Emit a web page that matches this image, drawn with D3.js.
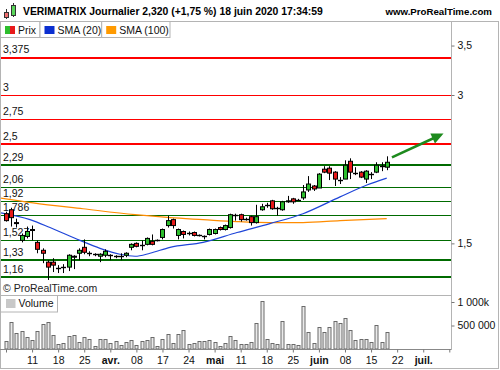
<!DOCTYPE html>
<html>
<head>
<meta charset="utf-8">
<script src="https://cdn.jsdelivr.net/npm/d3@7"></script>
<style>
  body { margin: 0; background: #fff; }
  svg { display: block; font-family: "Liberation Sans", Arial, sans-serif; }
</style>
</head>
<body>
<div id="chart"></div>
<script>
// daily candles, 4 March -> 18 June 2020 (trading-day index 0..73)
const open  = [1.80,1.84,1.71,1.53,1.57,1.63,1.51,1.43,1.31,1.31,1.25,1.26,1.26,1.36,1.40,1.46,1.40,1.39,1.37,1.38,
               1.38,1.37,1.37,1.38,1.46,1.50,1.48,1.49,1.52,1.53,1.56,1.68,1.74,1.58,1.62,1.60,1.61,1.58,1.57,1.59,
               1.60,1.66,1.64,1.66,1.79,1.79,1.75,1.77,1.71,1.84,1.89,1.93,1.86,1.84,1.92,1.95,1.94,1.96,2.04,2.08,
               2.06,2.25,2.26,2.22,2.14,2.15,2.33,2.21,2.22,2.15,2.20,2.22,2.28,2.27];
const high  = [1.82,1.86,1.75,1.60,1.67,1.68,1.53,1.45,1.33,1.35,1.28,1.29,1.39,1.38,1.45,1.54,1.42,1.40,1.40,1.44,
               1.39,1.38,1.40,1.41,1.50,1.51,1.53,1.56,1.59,1.54,1.65,1.78,1.75,1.65,1.63,1.62,1.62,1.59,1.58,1.65,
               1.65,1.67,1.69,1.80,1.80,1.80,1.76,1.78,1.89,1.90,1.91,1.94,1.87,1.93,1.98,1.96,1.95,2.09,2.18,2.09,
               2.21,2.28,2.28,2.23,2.17,2.34,2.36,2.27,2.23,2.24,2.22,2.32,2.32,2.38];
const low   = [1.72,1.67,1.66,1.51,1.55,1.53,1.40,1.30,1.13,1.21,1.20,1.20,1.22,1.24,1.33,1.39,1.37,1.37,1.31,1.36,
               1.33,1.35,1.33,1.36,1.43,1.46,1.43,1.48,1.48,1.52,1.54,1.66,1.65,1.54,1.55,1.58,1.57,1.57,1.54,1.58,
               1.59,1.63,1.63,1.65,1.73,1.72,1.73,1.68,1.70,1.83,1.86,1.84,1.78,1.83,1.91,1.90,1.93,1.94,2.02,2.03,
               2.06,2.21,2.14,2.08,2.10,2.15,2.15,2.19,2.16,2.11,2.15,2.21,2.23,2.24];
const close = [1.73,1.76,1.70,1.58,1.62,1.64,1.44,1.40,1.26,1.28,1.25,1.26,1.38,1.37,1.43,1.41,1.40,1.39,1.39,1.42,
               1.38,1.37,1.37,1.40,1.49,1.47,1.48,1.55,1.49,1.53,1.64,1.73,1.68,1.64,1.59,1.60,1.58,1.58,1.57,1.64,
               1.64,1.64,1.68,1.79,1.79,1.74,1.75,1.71,1.77,1.87,1.89,1.85,1.86,1.92,1.93,1.92,1.94,2.02,2.10,2.05,
               2.20,2.22,2.21,2.15,2.14,2.29,2.22,2.21,2.17,2.23,2.20,2.29,2.28,2.32];
const volume = [170,570,350,380,250,190,380,530,570,300,105,135,275,300,140,250,205,65,205,205,
                120,170,85,150,190,85,170,190,250,65,205,310,120,310,405,105,135,170,170,190,
                155,65,120,275,190,105,105,155,545,1020,205,120,110,595,110,110,90,915,355,120,
                460,355,460,600,545,650,405,190,210,210,150,510,150,355].map(v => v * 1000);

// moving averages (trading-day index, price)
const sma20Idx  = [-1.15, 4.6, 8.44, 14.19, 18.02, 21.86, 24.74, 27.61, 31.45, 37.78, 44.3, 50.6, 56.95, 64.05, 69.2, 73];
const sma20Val  = [1.81, 1.74, 1.66, 1.53, 1.45, 1.39, 1.37, 1.40, 1.46, 1.51, 1.61, 1.70, 1.80, 1.97, 2.09, 2.16];
const sma100Idx = [-1.15, 5.18, 14.77, 24.74, 31.45, 37.78, 44.3, 50.6, 56.95, 64.05, 73];
const sma100Val = [1.96, 1.91, 1.85, 1.79, 1.76, 1.74, 1.72, 1.71, 1.71, 1.73, 1.75];

// support / resistance levels
const levelVals = [3.375, 3, 2.75, 2.5, 2.29, 2.06, 1.92, 1.786, 1.527, 1.33, 1.16];
const levelText = ['3,375', '3', '2,75', '2,5', '2,29', '2,06', '1,92', '1,786', '1,527', '1,33', '1,16'];
const thickLevels = new Set([3.375, 2.5, 2.29, 1.33, 1.16]);

// trend arrow (index, price)
const arrowIdx = [74, 83.9];
const arrowPrice = [2.37, 2.61];

// axes
const priceTicks = [3.5, 3, 1.5];
const priceTickText = ['3,5', '3', '1,5'];
const volTicks = [1000000, 500000];
const volTickText = ['1 000k', '500 000'];
const dateTicks = [0, 5, 10, 15, 20, 25, 30, 35, 40, 45, 50, 55, 60, 65, 70, 75, 80, 85];
const dateText = ['', '11', '18', '25', 'avr.', '08', '17', '24', 'mai', '11', '18', '25', 'juin', '08', '15', '22', 'juil.', ''];
const monthText = new Set(['avr.', 'mai', 'juin', 'juil.']);

const GREEN = '#2dbe2d', RED = '#e8191a', BORDER = '#b4b4b4';
const crisp = (v, w) => (w % 2 ? Math.round(v - 0.5) + 0.5 : Math.round(v));

const svg = d3.select('#chart').append('svg').attr('width', 500).attr('height', 370);

const x = d3.scaleLinear().domain([0, 85]).range([6, 449.3]);
const y = d3.scaleLinear().domain([1.16, 3]).range([277, 95]);
const yv = d3.scaleLinear().domain([0, 1000000]).range([349, 302]);

svg.append('defs').append('clipPath').attr('id', 'main')
  .append('rect').attr('x', 1).attr('y', 38).attr('width', 450).attr('height', 257);

// header
const icon = svg.append('g');
icon.append('line').attr('x1', 6.5).attr('x2', 6.5).attr('y1', 9).attr('y2', 19).attr('stroke', '#333');
icon.append('rect').attr('x', 4.5).attr('y', 12.5).attr('width', 4).attr('height', 5).attr('fill', '#f07070').attr('stroke', '#333');
icon.append('line').attr('x1', 13.5).attr('x2', 13.5).attr('y1', 3).attr('y2', 17).attr('stroke', '#333');
icon.append('rect').attr('x', 11.5).attr('y', 5.5).attr('width', 4).attr('height', 10).attr('fill', '#5ad65a').attr('stroke', '#333');

svg.append('text').attr('x', 23).attr('y', 15).style('font-size', '10.4px').style('font-weight', 'bold')
  .text('VERIMATRIX Journalier 2,320 (+1,75 %) 18 juin 2020 17:34:59');
svg.append('text').attr('x', 492).attr('y', 15).attr('text-anchor', 'end')
  .style('font-size', '9.7px').style('font-weight', 'bold').text('www.ProRealTime.com');

// frames
svg.append('rect').attr('x', 0.5).attr('y', 21.5).attr('width', 498).attr('height', 347)
  .attr('fill', 'none').attr('stroke', BORDER);
svg.append('line').attr('x1', 0).attr('x2', 451).attr('y1', 295.5).attr('y2', 295.5).attr('stroke', BORDER);
svg.append('line').attr('x1', 451.5).attr('x2', 451.5).attr('y1', 22).attr('y2', 350).attr('stroke', BORDER);

// legend row
const legend = [
  { name: 'Prix', w: 39.5, colors: [GREEN, RED] },
  { name: 'SMA (20)', w: 61.7, colors: ['#0b2fd0'] },
  { name: 'SMA (100)', w: 68.3, colors: ['#ff9a00'] }
];
let lx = 0.5;
legend.forEach(d => {
  const g = svg.append('g').attr('transform', `translate(${lx},21.5)`);
  g.append('rect').attr('width', d.w).attr('height', 16).attr('fill', '#fff').attr('stroke', BORDER);
  const sw = 10 / d.colors.length;
  d.colors.forEach((c, i) => g.append('rect').attr('x', 4.5 + i * sw).attr('y', 4.5)
    .attr('width', sw).attr('height', 8).attr('fill', c));
  g.append('text').attr('x', 17.5).attr('y', 12).style('font-size', '10.5px').attr('fill', '#111').text(d.name);
  lx += d.w;
});

// levels
const main = svg.append('g').attr('clip-path', 'url(#main)');
const lastClose = close[close.length - 1];
main.selectAll('.level').data(levelVals).join('line')
  .attr('x1', 1).attr('x2', 451)
  .attr('y1', d => crisp(y(d), thickLevels.has(d) ? 2 : 1))
  .attr('y2', d => crisp(y(d), thickLevels.has(d) ? 2 : 1))
  .attr('stroke', d => d > lastClose ? '#ff0000' : '#006b00')
  .attr('stroke-width', d => thickLevels.has(d) ? 2.2 : 1.1);
main.selectAll('.level-label').data(levelVals).join('text')
  .attr('x', 3).attr('y', d => y(d) - 4.5)
  .style('font-size', '10.5px').attr('fill', '#111')
  .text((d, i) => levelText[i]);

// moving averages
const smaLine = d3.line().x(d => x(d[0])).y(d => y(d[1])).curve(d3.curveMonotoneX);
main.append('path').datum(d3.zip(sma100Idx, sma100Val)).attr('d', smaLine)
  .attr('fill', 'none').attr('stroke', '#ff8c00').attr('stroke-width', 1.2);
main.append('path').datum(d3.zip(sma20Idx, sma20Val)).attr('d', smaLine)
  .attr('fill', 'none').attr('stroke', '#1f45d8').attr('stroke-width', 1.2);

// candles
const idx = d3.range(close.length);
const cx = i => Math.round(x(i)) + 0.5;
main.selectAll('.wick').data(idx).join('line')
  .attr('x1', cx).attr('x2', cx)
  .attr('y1', i => y(high[i])).attr('y2', i => y(low[i]))
  .attr('stroke', '#000').attr('stroke-width', 1);
main.selectAll('.body').data(idx.filter(i => open[i] !== close[i])).join('rect')
  .attr('x', i => cx(i) - 2).attr('width', 4)
  .attr('y', i => y(Math.max(open[i], close[i])))
  .attr('height', i => Math.max(1, Math.abs(y(open[i]) - y(close[i]))))
  .attr('fill', i => close[i] > open[i] ? GREEN : RED)
  .attr('stroke', '#000').attr('stroke-width', 1);
main.selectAll('.doji').data(idx.filter(i => open[i] === close[i])).join('line')
  .attr('x1', i => cx(i) - 2.5).attr('x2', i => cx(i) + 2.5)
  .attr('y1', i => Math.round(y(close[i])) + 0.5).attr('y2', i => Math.round(y(close[i])) + 0.5)
  .attr('stroke', '#000').attr('stroke-width', 1.4);

// trend arrow
const a0 = [x(arrowIdx[0]), y(arrowPrice[0])], a1 = [x(arrowIdx[1]), y(arrowPrice[1])];
const len = Math.hypot(a1[0] - a0[0], a1[1] - a0[1]);
const ux = (a1[0] - a0[0]) / len, uy = (a1[1] - a0[1]) / len;
const hb = [a1[0] - ux * 12, a1[1] - uy * 12];
svg.append('line').attr('x1', a0[0]).attr('y1', a0[1]).attr('x2', hb[0] + ux * 2).attr('y2', hb[1] + uy * 2)
  .attr('stroke', '#1d8a1d').attr('stroke-width', 2.5);
svg.append('path').attr('fill', '#1d8a1d')
  .attr('d', `M${a1[0]},${a1[1]}L${hb[0] - uy * 5.5},${hb[1] + ux * 5.5}L${hb[0] + uy * 5.5},${hb[1] - ux * 5.5}Z`);

// right price axis
const pAxis = svg.append('g').attr('transform', 'translate(451.5,0)')
  .call(d3.axisRight(y).tickValues(priceTicks).tickFormat((d, i) => priceTickText[i]).tickSize(3).tickPadding(3));
pAxis.select('.domain').remove();

svg.append('text').attr('x', 3).attr('y', 292).style('font-size', '10.5px').attr('fill', '#222')
  .text('© ProRealTime.com');

// volume
const vg = svg.append('g').attr('transform', 'translate(0.5,295.5)');
vg.append('rect').attr('width', 57).attr('height', 16.5).attr('fill', '#fff').attr('stroke', BORDER);
vg.append('rect').attr('x', 5.5).attr('y', 3.5).attr('width', 9.5).attr('height', 9).attr('fill', '#c8c8c8');
vg.append('text').attr('x', 18).attr('y', 11.5).style('font-size', '10.5px').attr('fill', '#111').text('Volume');

svg.selectAll('.vol').data(idx).join('rect')
  .attr('x', i => cx(i) - 1.5).attr('width', 3)
  .attr('y', i => Math.round(yv(volume[i])) + 0.5)
  .attr('height', i => 349 - Math.round(yv(volume[i])) - 0.5)
  .attr('fill', '#eaeaea').attr('stroke', '#6a6a6a').attr('stroke-width', 1);

const vAxis = svg.append('g').attr('transform', 'translate(451.5,0)')
  .call(d3.axisRight(yv).tickValues(volTicks).tickFormat((d, i) => volTickText[i]).tickSize(3).tickPadding(3));
vAxis.select('.domain').remove();

// date axis
const dAxis = svg.append('g').attr('transform', 'translate(0,349.5)')
  .call(d3.axisBottom(x).tickValues(dateTicks).tickFormat((d, i) => dateText[i]).tickSize(3).tickPadding(4));
dAxis.select('.domain').attr('d', 'M0,0H451');

svg.selectAll('.tick line').attr('stroke', '#777');
svg.selectAll('.domain').attr('stroke', '#888');
svg.selectAll('.tick text')
  .style('font-family', '"Liberation Sans", Arial, sans-serif').style('font-size', '10.5px').attr('fill', '#111')
  .style('font-weight', function () { return monthText.has(this.textContent) ? 'bold' : 'normal'; });
</script>
</body>
</html>
